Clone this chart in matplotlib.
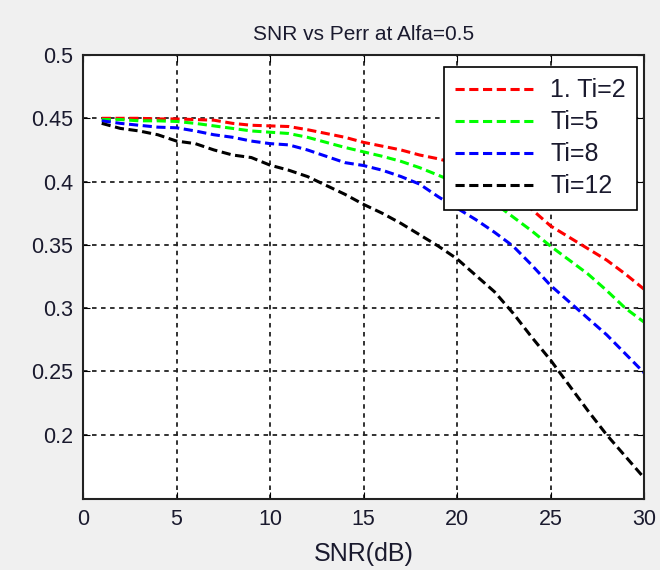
import matplotlib
matplotlib.use("Agg")
import matplotlib.pyplot as plt

snr = list(range(1, 31))
ti2 = [0.450, 0.450, 0.450, 0.4495, 0.4495, 0.449, 0.4485, 0.446, 0.4445, 0.4440,
       0.4435, 0.441, 0.438, 0.435, 0.431, 0.428, 0.425, 0.421, 0.418, 0.414,
       0.408, 0.400, 0.390, 0.378, 0.365, 0.356, 0.347, 0.338, 0.327, 0.315]
ti5 = [0.449, 0.449, 0.448, 0.448, 0.4475, 0.446, 0.444, 0.442, 0.440, 0.439,
       0.438, 0.435, 0.431, 0.427, 0.4235, 0.420, 0.416, 0.411, 0.405, 0.399,
       0.392, 0.383, 0.372, 0.361, 0.349, 0.338, 0.327, 0.314, 0.300, 0.289]
ti8 = [0.448, 0.446, 0.4445, 0.443, 0.4425, 0.440, 0.437, 0.435, 0.432, 0.430,
       0.429, 0.425, 0.420, 0.415, 0.4127, 0.409, 0.404, 0.398, 0.388, 0.379,
       0.370, 0.360, 0.349, 0.334, 0.318, 0.305, 0.292, 0.279, 0.264, 0.249]
ti12 = [0.446, 0.442, 0.440, 0.437, 0.432, 0.430, 0.425, 0.421, 0.419, 0.413,
        0.409, 0.404, 0.397, 0.390, 0.382, 0.375, 0.367, 0.358, 0.349, 0.339,
        0.326, 0.313, 0.296, 0.277, 0.259, 0.239, 0.219, 0.200, 0.183, 0.166]
labels = ["1. Ti=2", "Ti=5", "Ti=8", "Ti=12"]
colors = ["#ff0000", "#00ff00", "#0000ff", "#000000"]
xticks = [0, 5, 10, 15, 20, 25, 30]
yticks = [0.2, 0.25, 0.3, 0.35, 0.4, 0.45, 0.5]
yticklabels = ["0.2", "0.25", "0.3", "0.35", "0.4", "0.45", "0.5"]

plt.rcParams['font.family'] = ['Liberation Sans', 'DejaVu Sans']

fig = plt.figure(figsize=(6.6, 5.7), dpi=100, facecolor="#f0f0f0")
ax = fig.add_axes([0.1258, 0.124, 0.85, 0.7795])
ax.set_facecolor("white")

for y, lab, c in zip([ti2, ti5, ti8, ti12], labels, colors):
    ax.plot(snr, y, color=c, lw=2.2, linestyle=(0, (3, 1.5)), label=lab)

ax.set_xlim(0, 30)
ax.set_ylim(0.149, 0.5)
ax.set_xticks(xticks)
ax.set_xticklabels([str(v) for v in xticks])
ax.set_yticks(yticks)
ax.set_yticklabels(yticklabels)
ax.grid(True, color="#222222", linestyle=(0, (2.5, 2.5)), lw=1.3)
ax.tick_params(direction="in", top=True, right=True, length=5, labelsize=15.5,
               colors="black", pad=7, labelcolor="#1a1a2e")
for s in ax.spines.values():
    s.set_linewidth(1.5)
    s.set_color("#222222")

ax.set_title("SNR vs Perr at Alfa=0.5", fontsize=15, pad=11, color="#1a1a2e")
ax.set_xlabel("SNR(dB)", fontsize=18, labelpad=8.5, color="#1a1a2e")

leg = ax.legend(loc="upper right", bbox_to_anchor=(0.9875, 0.973), borderaxespad=0,
                fontsize=18, handlelength=3.2, handletextpad=0.6, labelspacing=0.32,
                fancybox=False, framealpha=1, edgecolor="black", borderpad=0.45)
leg.get_frame().set_linewidth(1.2)
for t in leg.get_texts():
    t.set_color("#1a1a2e")

fig.savefig("out.png", dpi=100, facecolor=fig.get_facecolor())
